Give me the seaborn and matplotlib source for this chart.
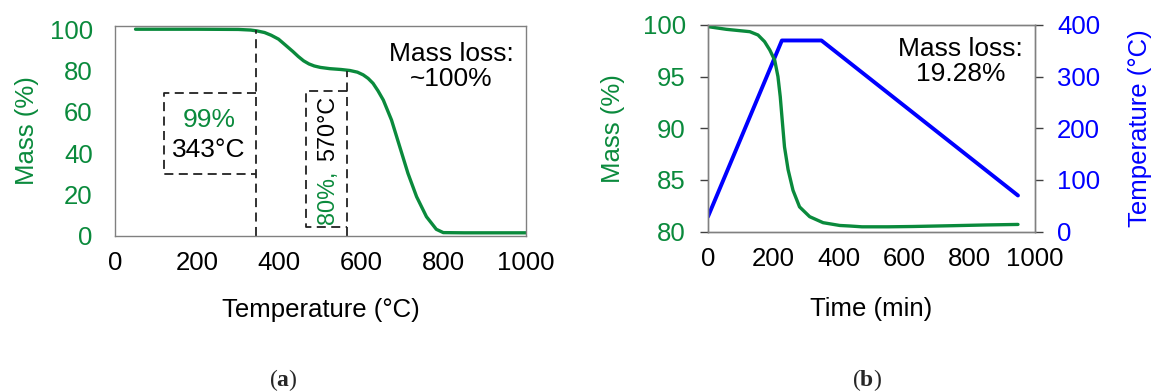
import numpy as np
import pandas as pd
import matplotlib
matplotlib.use('Agg')
import matplotlib.pyplot as plt
import seaborn as sns

# (a) TGA curve: temperature vs mass
temp_a = [50, 100, 200, 300, 330, 345, 364, 380, 398, 415, 433, 446, 459, 472, 485, 500, 523, 550, 572,
          590, 604, 616, 628, 640, 653, 673, 693, 713, 734, 758, 782, 799, 850, 900, 1000]
mass_a = [100, 100, 100, 99.9, 99.6, 99.2, 98.4, 97.1, 95.2, 92.3, 89.2, 86.8, 84.7, 83.2, 82.2, 81.5, 80.9, 80.5, 80.0,
          79.2, 77.9, 76.2, 73.8, 70.2, 65.7, 56.0, 43.1, 30.2, 18.9, 9.2, 3.1, 1.5, 1.4, 1.4, 1.4]

# (b) isothermal run: time vs mass and temperature program
time_b = [0, 56, 128, 153, 173, 189, 204, 214, 221, 227, 234, 245, 260, 280, 311, 352, 403, 433, 471,
          550, 625, 750, 850, 948]
mass_b = [99.84, 99.58, 99.35, 99.03, 98.39, 97.58, 96.6, 95.0, 93.06, 90.8, 88.2, 86.0, 84.0, 82.4, 81.45,
          80.87, 80.6, 80.55, 80.47, 80.47, 80.5, 80.58, 80.65, 80.7]
time_prog = [0, 226, 347, 948]
temp_prog = [29, 370, 370, 70]

# guide boxes in (a)
onset1 = 343
box1_x = [onset1, 120, 120, onset1]
box1_y = [69, 69, 30, 30]
onset2 = 565
box2_x = [onset2, 465, 465, onset2]
box2_y = [70.3, 70.3, 4, 4]

GREEN = '#0a8a3c'
BLUE = '#0000ff'
SPINE = '#808080'

sns.set_style('white')
plt.rcParams['font.family'] = ['Liberation Sans', 'DejaVu Sans']
plt.rcParams['mathtext.fontset'] = 'custom'
plt.rcParams['mathtext.rm'] = 'Liberation Serif'
plt.rcParams['mathtext.bf'] = 'Liberation Serif:bold'

fig = plt.figure(figsize=(11.51, 3.92), dpi=100)
ax_a = fig.add_axes([0.0999, 0.3987, 0.357, 0.5357])
ax_b = fig.add_axes([0.6151, 0.409, 0.2841, 0.5273])

df_a = pd.DataFrame({'T': temp_a, 'm': mass_a})
df_b = pd.DataFrame({'t': time_b, 'm': mass_b})
df_p = pd.DataFrame({'t': time_prog, 'T': temp_prog})

FS = 18.5
TXT = 19
ROT = 16.8
DASH = (0, (5, 3))


def style_axes(ax):
    for s in ax.spines.values():
        s.set_color(SPINE)
        s.set_linewidth(1.0)
    ax.tick_params(axis='both', which='major', direction='out', length=6,
                   width=1.0, color='#404040', labelsize=FS, labelcolor='black')
    ax.tick_params(axis='x', pad=5)
    ax.tick_params(axis='y', pad=10)


# ---- (a)
sns.lineplot(data=df_a, x='T', y='m', ax=ax_a, color=GREEN, lw=2.4)
ax_a.plot([onset1, onset1], [0, 99.5], ls=DASH, color='#222222', lw=1.3)
ax_a.plot(box1_x, box1_y, ls=DASH, color='#222222', lw=1.3)
ax_a.plot([onset2, onset2], [0, 80], ls=DASH, color='#222222', lw=1.3)
ax_a.plot(box2_x, box2_y, ls=DASH, color='#222222', lw=1.3)
ax_a.set_xlim(0, 1000)
ax_a.set_ylim(0, 101.7)
ax_a.set_xticks([0, 200, 400, 600, 800, 1000])
ax_a.set_yticks([0, 20, 40, 60, 80, 100])
style_axes(ax_a)
ax_a.tick_params(axis='y', labelcolor=GREEN)
ax_a.set_xlabel('Temperature (°C)', fontsize=FS, color='black')
ax_a.xaxis.set_label_coords(0.5, -0.354)
ax_a.xaxis.label.set_va('center')
ax_a.set_ylabel('Mass (%)', fontsize=FS, color=GREEN)
ax_a.yaxis.set_label_coords(-0.214, 0.5)
ax_a.yaxis.label.set_va('center')

ax_a.text(229, 56, '99%', color=GREEN, fontsize=TXT, ha='center', va='center')
ax_a.text(229, 41.5, '343°C', color='black', fontsize=TXT, ha='center', va='center')
ax_a.text(518, 18.7, '80%,', color=GREEN, fontsize=ROT, ha='center', va='center', rotation=90)
ax_a.text(518, 52, '570°C', color='black', fontsize=ROT, ha='center', va='center', rotation=90)
ax_a.text(819, 82, 'Mass loss:\n~100%', color='black', fontsize=TXT, ha='center', va='center',
          linespacing=1.05)

# ---- (b)
sns.lineplot(data=df_b, x='t', y='m', ax=ax_b, color=GREEN, lw=2.4)
ax_b.set_xlim(0, 1000)
ax_b.set_ylim(80, 100)
ax_b.set_xticks([0, 200, 400, 600, 800, 1000])
ax_b.set_yticks([80, 85, 90, 95, 100])
style_axes(ax_b)
ax_b.tick_params(axis='y', labelcolor=GREEN)
ax_b.set_xlabel('Time (min)', fontsize=FS, color='black')
ax_b.xaxis.set_label_coords(0.5, -0.374)
ax_b.xaxis.label.set_va('center')
ax_b.set_ylabel('Mass (%)', fontsize=FS, color=GREEN)
ax_b.yaxis.set_label_coords(-0.29, 0.5)
ax_b.yaxis.label.set_va('center')
ax_b.text(773, 96.5, 'Mass loss:\n19.28%', color='black', fontsize=TXT, ha='center', va='center',
          linespacing=1.05)

ax_t = ax_b.twinx()
sns.lineplot(data=df_p, x='t', y='T', ax=ax_t, color=BLUE, lw=2.8)
ax_t.set_ylim(0, 400)
ax_t.set_yticks([0, 100, 200, 300, 400])
style_axes(ax_t)
ax_t.tick_params(axis='y', labelcolor=BLUE, left=False, right=True)
ax_t.set_ylabel('Temperature (°C)', fontsize=FS, color=BLUE)
ax_t.yaxis.set_label_coords(1.32, 0.5)
ax_t.yaxis.label.set_va('center')
ax_t.set_xlabel('')
ax_b.set_zorder(ax_t.get_zorder() + 1)
ax_b.patch.set_visible(False)

fig.text(283 / 1151, 1 - 380 / 392, r'($\mathbf{a}$)', fontsize=17, ha='center', va='center',
         family='Liberation Serif')
fig.text(867 / 1151, 1 - 380 / 392, r'($\mathbf{b}$)', fontsize=17, ha='center', va='center',
         family='Liberation Serif')

fig.savefig('out.png', dpi=100)
